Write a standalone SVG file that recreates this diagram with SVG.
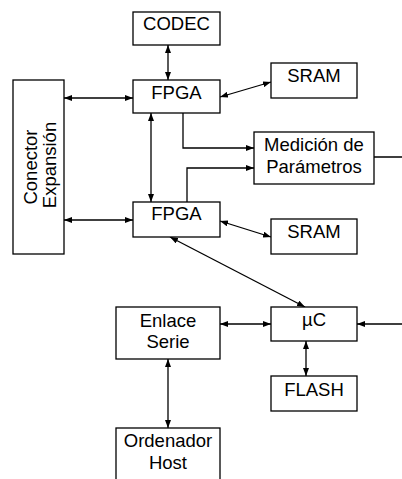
<svg xmlns="http://www.w3.org/2000/svg" width="402" height="479" viewBox="0 0 402 479">
<style>
.box{fill:#fff;stroke:#000;stroke-width:1.3}
.lbl{font-family:"Liberation Sans",Arial,sans-serif;font-size:18.5px;fill:#000;text-anchor:middle}
.con{fill:none;stroke:#000;stroke-width:1.3}
</style>
<defs>
<marker id="ah" viewBox="0 0 8 6" refX="8" refY="3" markerWidth="8" markerHeight="6" markerUnits="userSpaceOnUse" orient="auto-start-reverse">
<path d="M0,0 L8,3 L0,6 Z" fill="#000"/>
</marker>
</defs>
<rect width="402" height="479" fill="#fff"/>
<g id="connectors">
<path class="con" d="M168,45 V80" marker-start="url(#ah)" marker-end="url(#ah)"/>
<path class="con" d="M64,98 H133" marker-start="url(#ah)" marker-end="url(#ah)"/>
<path class="con" d="M220,97 L271,82" marker-start="url(#ah)" marker-end="url(#ah)"/>
<path class="con" d="M151,113 V202" marker-start="url(#ah)" marker-end="url(#ah)"/>
<path class="con" d="M183,113 V148 H254" marker-end="url(#ah)"/>
<path class="con" d="M187,202 V168 H254" marker-end="url(#ah)"/>
<path class="con" d="M374,157 H410 V324 H357" marker-end="url(#ah)"/>
<path class="con" d="M64,220 H133" marker-start="url(#ah)" marker-end="url(#ah)"/>
<path class="con" d="M220,221 L271,237" marker-start="url(#ah)" marker-end="url(#ah)"/>
<path class="con" d="M170,237 L305,307" marker-start="url(#ah)" marker-end="url(#ah)"/>
<path class="con" d="M220,324 H271" marker-start="url(#ah)" marker-end="url(#ah)"/>
<path class="con" d="M306,341 V376" marker-start="url(#ah)" marker-end="url(#ah)"/>
<path class="con" d="M168,359 V428" marker-start="url(#ah)" marker-end="url(#ah)"/>
</g>
<g id="codec"><rect class="box" x="133" y="12" width="87" height="33"/><text class="lbl" x="176.5" y="30">CODEC</text></g>
<g id="fpga1"><rect class="box" x="133" y="80" width="87" height="33"/><text class="lbl" x="176.5" y="99">FPGA</text></g>
<g id="sram1"><rect class="box" x="271" y="63" width="86" height="35"/><text class="lbl" x="314" y="82">SRAM</text></g>
<g id="conector"><rect class="box" x="13" y="80" width="51" height="174"/><text class="lbl" transform="translate(37,167) rotate(-90)">Conector</text><text class="lbl" transform="translate(55.5,165) rotate(-90)">Expansión</text></g>
<g id="medicion"><rect class="box" x="254" y="132" width="120" height="52"/><text class="lbl" x="314" y="151">Medición de</text><text class="lbl" x="314" y="173">Parámetros</text></g>
<g id="fpga2"><rect class="box" x="133" y="202" width="87" height="35"/><text class="lbl" x="176.5" y="220">FPGA</text></g>
<g id="sram2"><rect class="box" x="271" y="219" width="86" height="35"/><text class="lbl" x="314" y="238">SRAM</text></g>
<g id="enlace"><rect class="box" x="116" y="307" width="104" height="52"/><text class="lbl" x="168" y="327">Enlace</text><text class="lbl" x="168" y="348">Serie</text></g>
<g id="uc"><rect class="box" x="271" y="307" width="86" height="34"/><text class="lbl" x="314" y="326">µC</text></g>
<g id="flash"><rect class="box" x="271" y="376" width="86" height="35"/><text class="lbl" x="314" y="396">FLASH</text></g>
<g id="ordenador"><rect class="box" x="116" y="428" width="104" height="70"/><text class="lbl" x="168" y="447">Ordenador</text><text class="lbl" x="168" y="469">Host</text></g>
</svg>
